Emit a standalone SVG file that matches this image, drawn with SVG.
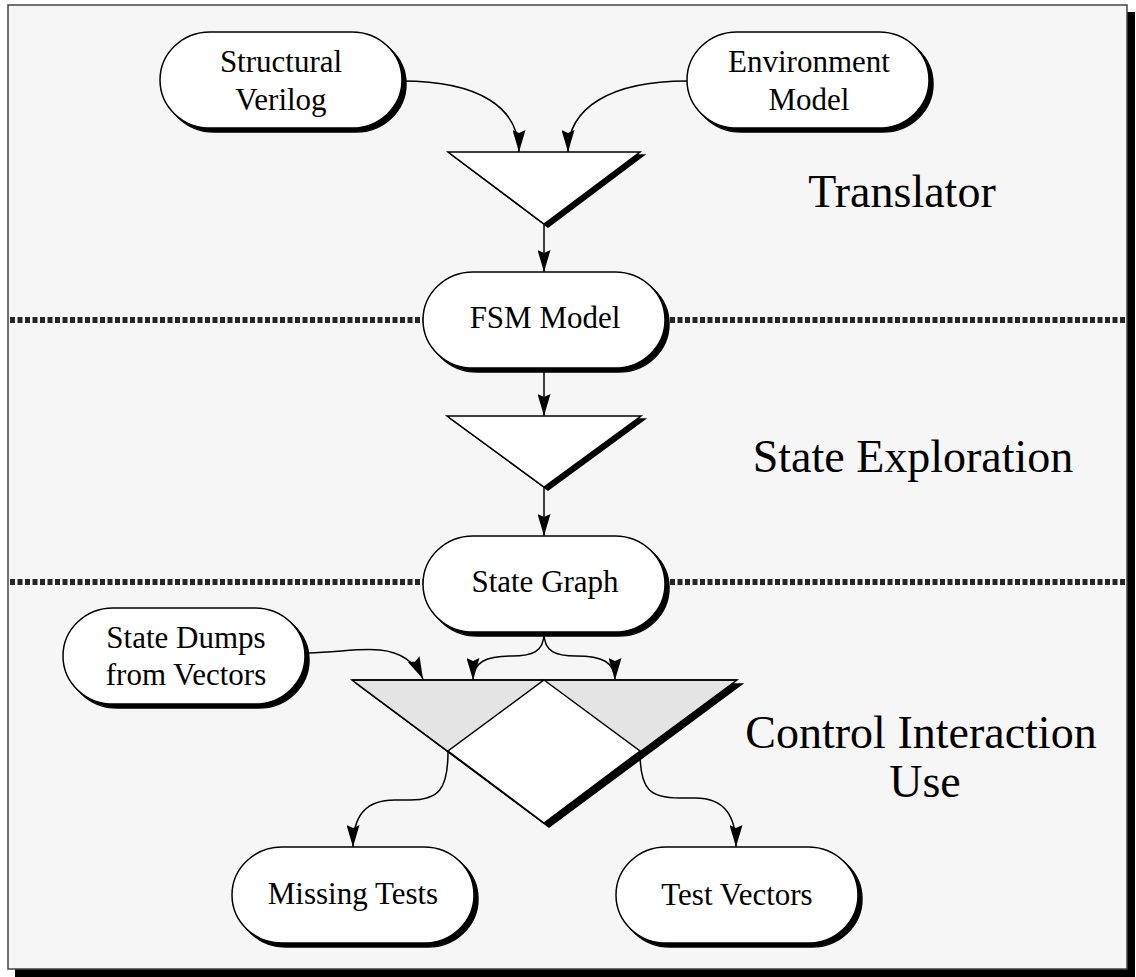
<svg xmlns="http://www.w3.org/2000/svg" width="1136" height="977" viewBox="0 0 1136 977">
  <style>
    .frame { fill: #f6f6f6; stroke: #444; stroke-width: 1.5; }
    .frame-shadow { fill: #000; }
    .divider { fill: none; stroke: #262626; stroke-width: 6; stroke-dasharray: 5 2.5; }
    .shadow { fill: #000; stroke: #000; stroke-width: 1.5; }
    .pill { fill: #fff; stroke: #000; stroke-width: 1.5; }
    .tri { fill: #fff; stroke: #000; stroke-width: 1.5; stroke-linejoin: miter; }
    .grey { fill: #e4e4e4; stroke: #000; stroke-width: 1.5; }
    .label { font-family: "Liberation Serif", "Times New Roman", Times, serif; font-size: 31px; fill: #000; text-anchor: middle; }
    .stage { font-family: "Liberation Serif", "Times New Roman", Times, serif; font-size: 46px; fill: #000; text-anchor: middle; }
    .edge { fill: none; stroke: #000; stroke-width: 1.5; marker-end: url(#arrow); }
  </style>
  <defs>
    <marker id="arrow" markerUnits="userSpaceOnUse" viewBox="0 0 22 13" markerWidth="22" markerHeight="13" refX="22" refY="6.5" orient="auto">
      <path d="M0,0 L22,6.5 L0,13 L3,6.5 z" fill="#000"/>
    </marker>
  </defs>

  <!-- page frame with drop shadow -->
  <rect class="frame-shadow" x="15" y="12" width="1120" height="965"/>
  <rect class="frame" x="8" y="5" width="1119" height="964"/>

  <!-- stage dividers -->
  <g id="dividers">
    <line class="divider" x1="10" y1="320" x2="1125" y2="320"/>
    <line class="divider" x1="10" y1="582" x2="1125" y2="582"/>
  </g>

  <!-- stage titles -->
  <g id="stage-labels">
    <text class="stage" x="902" y="207">Translator</text>
    <text class="stage" x="913" y="472">State Exploration</text>
    <text class="stage" x="921" y="748">Control Interaction</text>
    <text class="stage" x="925" y="797">Use</text>
  </g>

  <!-- connectors -->
  <g id="connectors">
    <path class="edge" d="M402,81 C480,81 519,108 519,152"/>
    <path class="edge" d="M687,81 C610,81 568,108 568,152"/>
    <path class="edge" d="M544,225 L544,272"/>
    <path class="edge" d="M544,369 L544,416"/>
    <path class="edge" d="M544,488 L544,536"/>
    <path class="edge" d="M544,633 C544,652 532,656 512,656 C486,656 473,662 473,680"/>
    <path class="edge" d="M544,633 C544,652 556,656 576,656 C602,656 615,662 615,680"/>
    <path class="edge" d="M308,653 C340,652 360,648 380,650 C400,652 415,662 423,679"/>
    <path class="edge" d="M448,752 C448,790 438,800 410,800 L395,800 C366,800 353,815 353,847"/>
    <path class="edge" d="M640,752 C640,790 650,798 680,798 L695,798 C724,798 736,815 736,847"/>
  </g>

  <!-- sources -->
  <g id="structural-verilog">
    <rect class="shadow" x="164" y="36" width="242" height="96" rx="50" ry="48"/>
    <rect class="pill" x="160" y="32" width="242" height="96" rx="50" ry="48"/>
    <text class="label" x="281" y="72">Structural</text>
    <text class="label" x="281" y="110">Verilog</text>
  </g>
  <g id="environment-model">
    <rect class="shadow" x="691" y="36" width="242" height="96" rx="50" ry="48"/>
    <rect class="pill" x="687" y="32" width="242" height="96" rx="50" ry="48"/>
    <text class="label" x="809" y="72">Environment</text>
    <text class="label" x="809" y="110">Model</text>
  </g>

  <!-- translator step -->
  <g id="translator">
    <polygon class="shadow" points="452,155 644,155 548,227"/>
    <polygon class="tri" points="448,152 640,152 544,224"/>
  </g>

  <g id="fsm-model">
    <rect class="shadow" x="427" y="276" width="242" height="96" rx="50" ry="48"/>
    <rect class="pill" x="423" y="272" width="242" height="96" rx="50" ry="48"/>
    <text class="label" x="545" y="328">FSM Model</text>
  </g>

  <!-- state exploration step -->
  <g id="state-exploration">
    <polygon class="shadow" points="451,419 645,419 548,490"/>
    <polygon class="tri" points="447,416 641,416 544,487"/>
  </g>

  <g id="state-graph">
    <rect class="shadow" x="427" y="540" width="242" height="96" rx="50" ry="48"/>
    <rect class="pill" x="423" y="536" width="242" height="96" rx="50" ry="48"/>
    <text class="label" x="545" y="592">State Graph</text>
  </g>

  <g id="state-dumps">
    <rect class="shadow" x="67" y="612" width="242" height="96" rx="50" ry="48"/>
    <rect class="pill" x="63" y="608" width="242" height="96" rx="50" ry="48"/>
    <text class="label" x="186" y="648">State Dumps</text>
    <text class="label" x="186" y="685">from Vectors</text>
  </g>

  <!-- control interaction step: triangle with inscribed diamond -->
  <g id="control-interaction">
    <polygon class="shadow" points="357,684 742,684 549,827"/>
    <polygon class="grey" points="352,680 737,680 544,823"/>
    <polygon class="tri" points="544,680 640,751 544,823 448,751"/>
    <line x1="352" y1="680" x2="737" y2="680" stroke="#000" stroke-width="1.5"/>
  </g>

  <!-- results -->
  <g id="missing-tests">
    <rect class="shadow" x="236" y="851" width="242" height="96" rx="50" ry="48"/>
    <rect class="pill" x="232" y="847" width="242" height="96" rx="50" ry="48"/>
    <text class="label" x="353" y="904">Missing Tests</text>
  </g>
  <g id="test-vectors">
    <rect class="shadow" x="620" y="851" width="242" height="96" rx="50" ry="48"/>
    <rect class="pill" x="616" y="847" width="242" height="96" rx="50" ry="48"/>
    <text class="label" x="737" y="905">Test Vectors</text>
  </g>
</svg>
